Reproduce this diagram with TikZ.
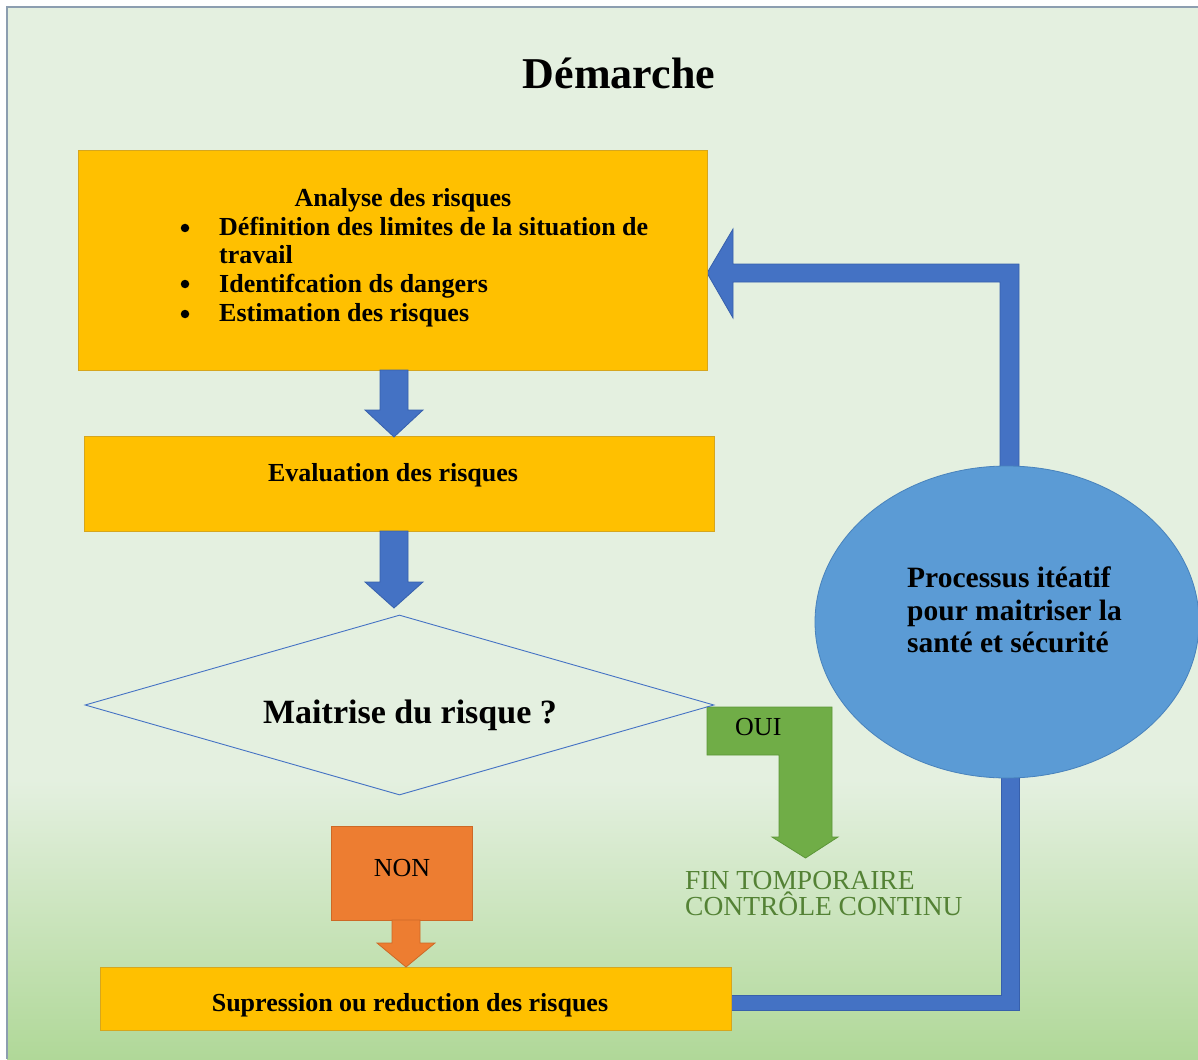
\documentclass[tikz,border=0pt]{standalone}
\usepackage{fontspec}
\setmainfont{Liberation Serif}
\usetikzlibrary{shapes.geometric}

\definecolor{bgtop}{RGB}{228,240,224}
\definecolor{bgbot}{RGB}{176,216,152}
\definecolor{framecol}{RGB}{140,158,176}
\definecolor{gold}{RGB}{255,192,0}
\definecolor{goldline}{RGB}{214,166,30}
\definecolor{arrowblue}{RGB}{68,114,196}
\definecolor{arrowblueline}{RGB}{55,96,172}
\definecolor{ellblue}{RGB}{91,155,213}
\definecolor{ellline}{RGB}{72,130,188}
\definecolor{okgreen}{RGB}{112,173,71}
\definecolor{okgreenline}{RGB}{92,150,56}
\definecolor{nonorange}{RGB}{237,125,49}
\definecolor{nonline}{RGB}{205,105,38}
\definecolor{greentext}{RGB}{84,130,53}

\newcommand\fsz[1]{\fontsize{#1}{#1}\selectfont}

% block arrow pointing down: style, x centre, y top, y tip, half shaft, half head, head length
\newcommand\downblock[7]{%
  \path[#1] ({#2-#5},#3) -- ({#2+#5},#3) -- ({#2+#5},{#4-#7}) -- ({#2+#6},{#4-#7})
    -- (#2,#4) -- ({#2-#6},{#4-#7}) -- ({#2-#5},{#4-#7}) -- cycle;}

\tikzset{
  goldbox/.style={draw=goldline, fill=gold, line width=1pt, inner sep=0pt},
  txt/.style={inner sep=0pt, font=\bfseries\fsz{26}},
  plain/.style={inner sep=0pt, font=\fsz{25}},
  blueblock/.style={fill=arrowblue, draw=arrowblueline, line width=0.8pt},
  greenblock/.style={fill=okgreen, draw=okgreenline, line width=0.8pt},
  orangeblock/.style={fill=nonorange, draw=nonline, line width=0.8pt},
  bulletdot/.style={circle, fill=black, inner sep=0pt, minimum size=8.5pt},
}

\begin{document}
\begin{tikzpicture}[x=1pt,y=-1pt]
\useasboundingbox (0,0) rectangle (1198,1059);

% page background with soft green fade at the bottom
\fill[white] (0,0) rectangle (1198,1059);
\fill[bgtop] (7,7) rectangle (1198,1059);
\shade[top color=bgtop, bottom color=bgbot] (7,780) rectangle (1198,1059);
\draw[framecol, line width=1.5pt] (7,1059) -- (7,7) -- (1198,7);

% title
\node[inner sep=0pt, font=\bfseries\fsz{44}, anchor=base] (title) at (619,89) {Démarche};

% feedback loop: bottom box -> cycle -> first box
\path[blueblock] (731,995) -- (1001,995) -- (1001,770) -- (1019,770) -- (1019,1010) -- (731,1010) -- cycle;
\path[blueblock] (1019,475) -- (1019,264) -- (733,264) -- (733,229) -- (707,273)
  -- (733,318) -- (733,282) -- (1000,282) -- (1000,475) -- cycle;

% iterative process
\node[ellipse, fill=ellblue, draw=ellline, line width=0.8pt, minimum width=384pt, minimum height=312pt, inner sep=0pt] (cycle) at (1007,622) {};
\node[inner sep=0pt, font=\bfseries\fsz{29.5}, anchor=base west] (c1) at (907,587) {Processus itéatif};
\node[inner sep=0pt, font=\bfseries\fsz{29.5}, anchor=base west] (c2) at (907,620) {pour maitriser la};
\node[inner sep=0pt, font=\bfseries\fsz{29.5}, anchor=base west] (c3) at (907,652) {santé et sécurité};

% risk analysis
\node[goldbox, minimum width=629pt, minimum height=219pt] (analyse) at (392.5,260.5) {};
\node[txt, anchor=base] (a0) at (403,207) {Analyse des risques};
\node[bulletdot] (b1) at (185,228) {};
\node[bulletdot] (b2) at (185,284) {};
\node[bulletdot] (b3) at (185,314) {};
\node[txt, anchor=base west] (a1) at (219,236) {Définition des limites de la situation de};
\node[txt, anchor=base west] (a1b) at (219,263) {travail};
\node[txt, anchor=base west] (a2) at (219,292) {Identifcation ds dangers};
\node[txt, anchor=base west] (a3) at (219,321) {Estimation des risques};

% evaluation
\node[goldbox, minimum width=630pt, minimum height=95pt] (evaluation) at (399,483.5) {};
\node[txt, anchor=base] (e0) at (393,481) {Evaluation des risques};

% OUI branch
\path[greenblock] (707,707) -- (832,707) -- (832,837) -- (838,837) -- (805.5,858)
  -- (772,837) -- (779,837) -- (779,755) -- (707,755) -- cycle;
\node[plain, font=\fsz{26}, anchor=base west] (oui) at (735,735) {OUI};
\node[plain, font=\fsz{27.5}, text=greentext, anchor=base west] (fin1) at (685,889) {FIN TOMPORAIRE};
\node[plain, font=\fsz{27.5}, text=greentext, anchor=base west] (fin2) at (685,915) {CONTRÔLE CONTINU};

% decision
\node[diamond, draw=arrowblue, line width=0.9pt, minimum width=629pt, minimum height=180pt, inner sep=0pt] (decision) at (399.5,705) {};
\node[inner sep=0pt, font=\bfseries\fsz{34}, anchor=base] (d0) at (410,723) {Maitrise du risque ?};

% NON branch
\node[fill=nonorange, draw=nonline, line width=0.8pt, minimum width=141pt, minimum height=94pt, inner sep=0pt] (non) at (401.5,873) {};
\node[plain, font=\fsz{26}, anchor=base] (n0) at (402,876) {NON};

% reduction
\node[goldbox, minimum width=631pt, minimum height=63pt] (reduction) at (415.5,998.5) {};
\node[txt, anchor=base] (r0) at (410,1011) {Supression ou reduction des risques};

% flow arrows
\downblock{blueblock}{394}{370}{437}{14}{29}{27}
\downblock{blueblock}{394}{531}{608}{14}{29}{26}
\downblock{orangeblock}{406}{920}{967}{14}{29}{24}
\end{tikzpicture}
\end{document}
